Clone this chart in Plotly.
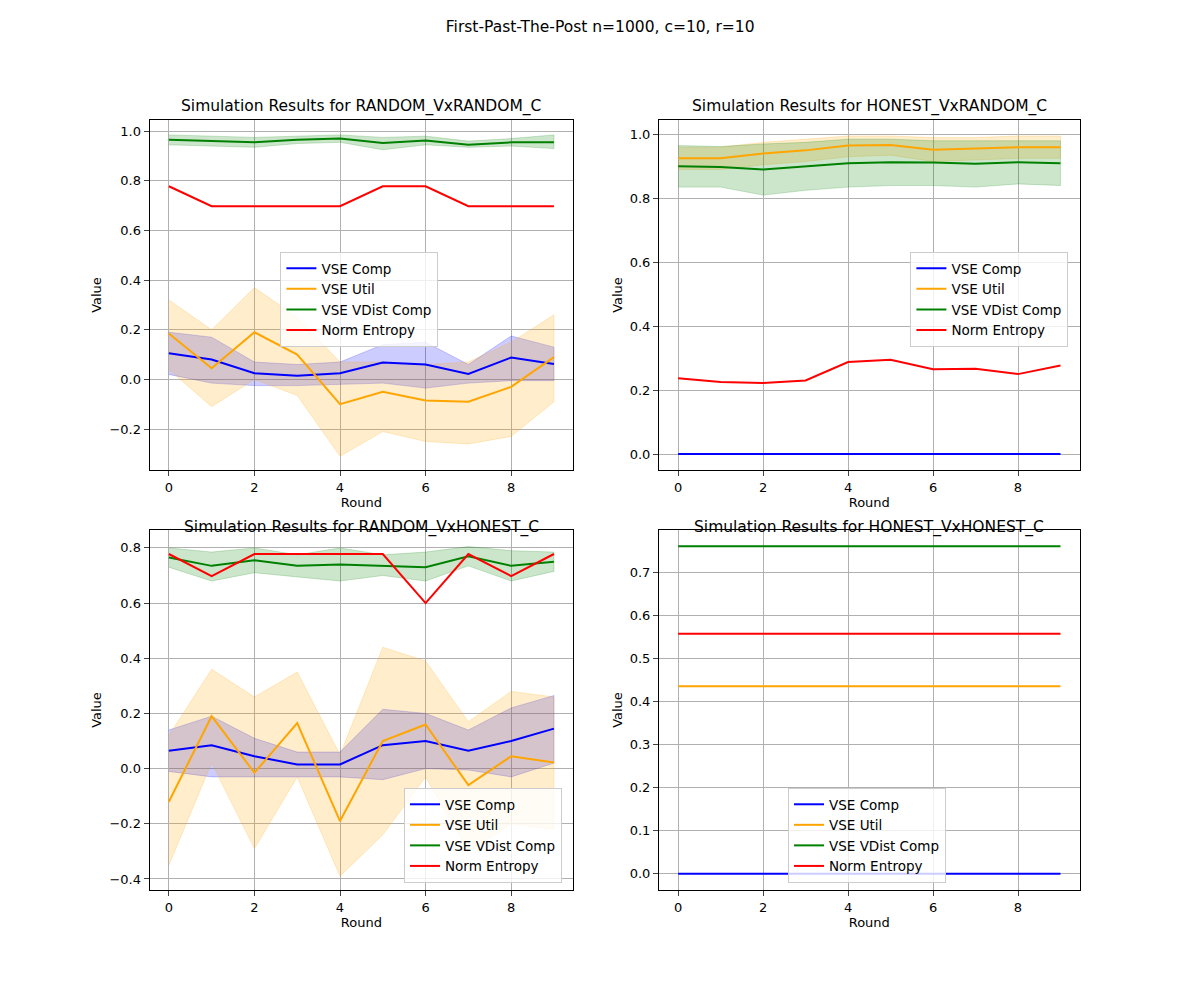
import plotly.graph_objects as go
from plotly.subplots import make_subplots

rounds = list(range(10))
titles = ["Simulation Results for RANDOM_VxRANDOM_C", "Simulation Results for HONEST_VxRANDOM_C",
          "Simulation Results for RANDOM_VxHONEST_C", "Simulation Results for HONEST_VxHONEST_C"]
names = ["VSE Comp", "VSE Util", "VSE VDist Comp", "Norm Entropy"]
colors = ["blue", "orange", "green", "red"]
fills = ["rgba(0,0,255,0.2)", "rgba(255,165,0,0.2)", "rgba(0,128,0,0.2)", "rgba(255,0,0,0.2)"]

# RANDOM_VxRANDOM_C
rr_comp = [0.105, 0.08, 0.025, 0.015, 0.025, 0.068, 0.06, 0.022, 0.088, 0.062]
rr_comp_lo = [0.02, -0.015, -0.025, -0.025, -0.02, -0.015, -0.035, -0.015, -0.005, -0.005]
rr_comp_hi = [0.19, 0.17, 0.07, 0.06, 0.07, 0.14, 0.15, 0.06, 0.175, 0.13]
rr_util = [0.185, 0.045, 0.19, 0.1, -0.1, -0.05, -0.085, -0.09, -0.03, 0.09]
rr_util_lo = [0.04, -0.11, 0.0, -0.065, -0.31, -0.21, -0.25, -0.26, -0.23, -0.09]
rr_util_hi = [0.32, 0.2, 0.37, 0.25, 0.07, 0.07, 0.06, 0.07, 0.15, 0.26]
rr_vd = [0.965, 0.96, 0.955, 0.965, 0.97, 0.952, 0.962, 0.945, 0.955, 0.955]
rr_vd_lo = [0.945, 0.94, 0.935, 0.95, 0.955, 0.925, 0.945, 0.935, 0.94, 0.93]
rr_vd_hi = [0.985, 0.98, 0.975, 0.98, 0.985, 0.975, 0.98, 0.96, 0.97, 0.985]
rr_ent = [0.778, 0.698, 0.698, 0.698, 0.698, 0.778, 0.778, 0.698, 0.698, 0.698]

# HONEST_VxRANDOM_C
hr_comp = [0.0] * 10
hr_util = [0.925, 0.925, 0.94, 0.95, 0.965, 0.967, 0.952, 0.955, 0.96, 0.96]
hr_util_lo = [0.89, 0.89, 0.905, 0.915, 0.93, 0.935, 0.915, 0.92, 0.925, 0.925]
hr_util_hi = [0.96, 0.96, 0.975, 0.985, 0.995, 0.995, 0.99, 0.99, 0.995, 0.995]
hr_vd = [0.9, 0.898, 0.89, 0.9, 0.91, 0.913, 0.912, 0.908, 0.913, 0.91]
hr_vd_lo = [0.835, 0.835, 0.81, 0.825, 0.835, 0.84, 0.84, 0.835, 0.845, 0.84]
hr_vd_hi = [0.965, 0.962, 0.97, 0.975, 0.985, 0.985, 0.98, 0.98, 0.98, 0.98]
hr_ent = [0.237, 0.225, 0.222, 0.23, 0.288, 0.295, 0.265, 0.267, 0.25, 0.277]

# RANDOM_VxHONEST_C
rh_comp = [0.065, 0.085, 0.045, 0.015, 0.015, 0.085, 0.1, 0.065, 0.1, 0.145]
rh_comp_lo = [-0.01, -0.03, -0.03, -0.03, -0.03, -0.04, 0.0, -0.005, -0.03, 0.02]
rh_comp_hi = [0.14, 0.19, 0.11, 0.06, 0.06, 0.215, 0.2, 0.14, 0.22, 0.265]
rh_util = [-0.12, 0.19, -0.015, 0.165, -0.19, 0.1, 0.16, -0.06, 0.045, 0.022]
rh_util_lo = [-0.35, 0.02, -0.29, -0.03, -0.39, -0.24, -0.03, -0.3, -0.2, -0.22]
rh_util_hi = [0.12, 0.36, 0.26, 0.35, 0.05, 0.44, 0.39, 0.17, 0.28, 0.26]
rh_vd = [0.765, 0.735, 0.755, 0.735, 0.74, 0.735, 0.73, 0.77, 0.735, 0.75]
rh_vd_lo = [0.73, 0.68, 0.71, 0.695, 0.68, 0.7, 0.68, 0.735, 0.68, 0.715]
rh_vd_hi = [0.8, 0.785, 0.8, 0.775, 0.8, 0.775, 0.785, 0.805, 0.79, 0.785]
rh_ent = [0.778, 0.698, 0.778, 0.778, 0.778, 0.778, 0.6, 0.778, 0.698, 0.778]

# HONEST_VxHONEST_C
hh_comp = [0.0] * 10
hh_util = [0.435] * 10
hh_vd = [0.76] * 10
hh_ent = [0.557] * 10

panels = [
    [(rr_comp, rr_comp_lo, rr_comp_hi), (rr_util, rr_util_lo, rr_util_hi), (rr_vd, rr_vd_lo, rr_vd_hi), (rr_ent, None, None)],
    [(hr_comp, None, None), (hr_util, hr_util_lo, hr_util_hi), (hr_vd, hr_vd_lo, hr_vd_hi), (hr_ent, None, None)],
    [(rh_comp, rh_comp_lo, rh_comp_hi), (rh_util, rh_util_lo, rh_util_hi), (rh_vd, rh_vd_lo, rh_vd_hi), (rh_ent, None, None)],
    [(hh_comp, None, None), (hh_util, None, None), (hh_vd, None, None), (hh_ent, None, None)],
]
yranges = [[-0.365, 1.045], [-0.05, 1.045], [-0.44, 0.865], [-0.038, 0.798]]
ydtick = [0.2, 0.2, 0.2, 0.1]
legend_pos = [(0.227, 0.756, "top"), (0.752, 0.756, "top"), (0.330, 0.125, "bottom"), (0.650, 0.125, "bottom")]

fig = make_subplots(rows=2, cols=2, subplot_titles=titles, horizontal_spacing=0.07, vertical_spacing=0.06)

for i, series in enumerate(panels):
    r, c = i // 2 + 1, i % 2 + 1
    leg = "legend" if i == 0 else "legend%d" % (i + 1)
    # bands first
    for j, (vals, lo, hi) in enumerate(series):
        if lo is None:
            continue
        fig.add_trace(go.Scatter(x=rounds + rounds[::-1], y=hi + lo[::-1], fill="toself", fillcolor=fills[j],
                                 line=dict(color=fills[j], width=1), showlegend=False, hoverinfo="skip"), row=r, col=c)
    for j, (vals, lo, hi) in enumerate(series):
        fig.add_trace(go.Scatter(x=rounds, y=vals, mode="lines", name=names[j], line=dict(color=colors[j], width=2),
                                 legend=leg), row=r, col=c)
    lx, ly, ya = legend_pos[i]
    fig.update_layout({leg: dict(x=lx, y=ly, xanchor="left", yanchor=ya, bgcolor="rgba(255,255,255,0.8)",
                                 bordercolor="#cccccc", borderwidth=1, font=dict(size=13.5))})
    fig.update_xaxes(title_text="Round", range=[-0.45, 9.45], dtick=2, row=r, col=c)
    fig.update_yaxes(title_text="Value", range=yranges[i], dtick=ydtick[i],
                     tickformat=".1f", row=r, col=c)

fig.update_xaxes(domain=[0.118, 0.471], col=1)
fig.update_xaxes(domain=[0.5425, 0.893], col=2)
fig.update_yaxes(domain=[0.538, 0.888], row=1)
fig.update_yaxes(domain=[0.118, 0.478], row=2)
fig.update_xaxes(showline=True, linecolor="black", mirror=True, ticks="outside", gridcolor="#b0b0b0",
                 zeroline=False, title_standoff=2, title_font=dict(size=13))
fig.update_yaxes(showline=True, linecolor="black", mirror=True, ticks="outside", gridcolor="#b0b0b0",
                 zeroline=False, title_standoff=4, title_font=dict(size=13))

ann_y = [0.901, 0.901, 0.481, 0.481]
ann_x = [0.2945, 0.7178, 0.2945, 0.7178]
for k, a in enumerate(fig.layout.annotations):
    a.y = ann_y[k]
    a.x = ann_x[k]
    a.yanchor = "middle"
    a.font = dict(size=15.5, color="black")

fig.update_layout(title=dict(text="First-Past-The-Post n=1000, c=10, r=10", x=0.4935, y=0.981, xanchor="center",
                             yanchor="middle", font=dict(size=15.5, color="black")),
                  width=1200, height=1000, plot_bgcolor="white", paper_bgcolor="white",
                  font=dict(family="DejaVu Sans", size=13, color="black"),
                  margin=dict(l=0, r=0, t=0, b=0))

fig.write_html("out.html")
